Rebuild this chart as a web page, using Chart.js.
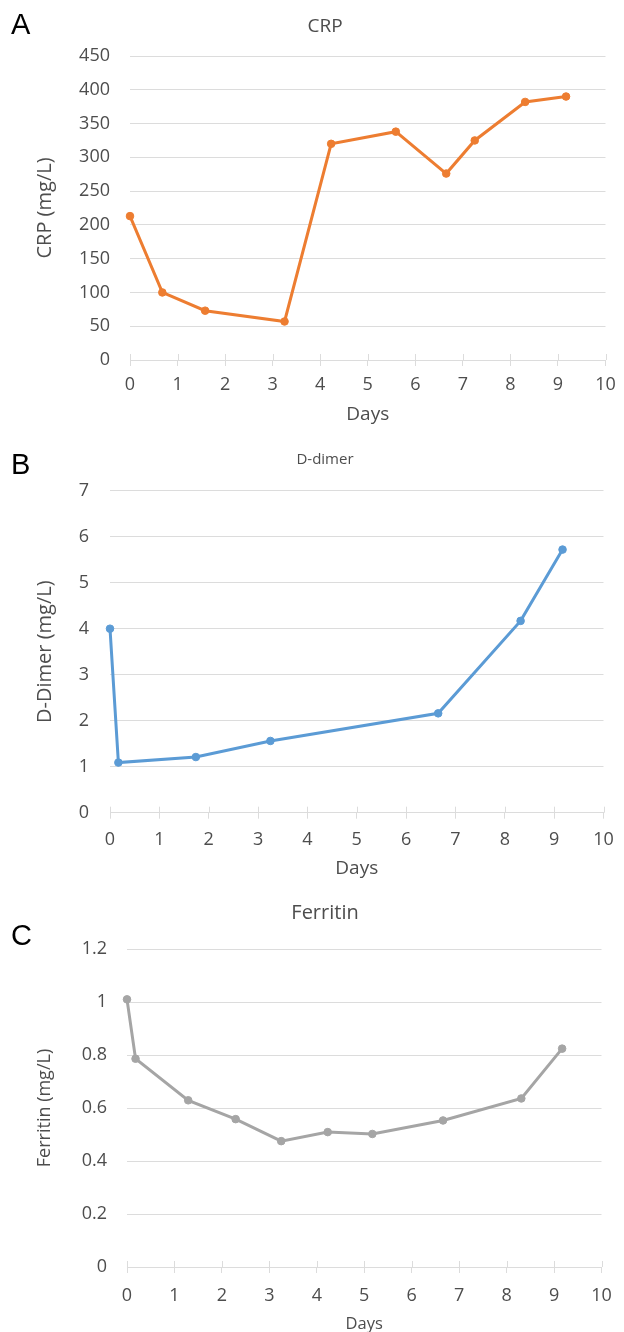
<!DOCTYPE html>
<html>
<head>
<meta charset="utf-8">
<script src="https://cdn.jsdelivr.net/npm/chart.js@4/dist/chart.umd.min.js"></script>
<style>
  body { margin: 0; background: #fff; }
  #wrap { position: relative; width: 624px; height: 1332px; overflow: hidden; }
  canvas { position: absolute; left: 0; }
  .panel { position: absolute; left: 11px; font-family: "Liberation Sans", Arial, sans-serif; font-size: 29px; color: #000; line-height: 1; }
</style>
</head>
<body>
<div id="wrap">
  <canvas id="crp" width="624" height="440" style="top:0"></canvas>
  <canvas id="ddimer" width="624" height="450" style="top:440px"></canvas>
  <canvas id="ferritin" width="624" height="442" style="top:890px"></canvas>
  <div class="panel" style="top:10px">A</div>
  <div class="panel" style="top:450px">B</div>
  <div class="panel" style="top:921px">C</div>
</div>
<script>
// values
const crpDays = [0, 0.68, 1.58, 3.25, 4.23, 5.59, 6.65, 7.25, 8.31, 9.17];
const crpValues = [213, 100, 73, 57, 320, 338, 276, 325, 382, 390];

const ddimerDays = [0, 0.17, 1.74, 3.25, 6.65, 8.32, 9.17];
const ddimerValues = [4.0, 1.09, 1.21, 1.56, 2.16, 4.17, 5.72];

const ferritinDays = [0, 0.18, 1.29, 2.29, 3.25, 4.23, 5.17, 6.66, 8.31, 9.17];
const ferritinValues = [1.01, 0.786, 0.629, 0.558, 0.475, 0.509, 0.502, 0.553, 0.636, 0.824];

const FONT = "'Open Sans', 'DejaVu Sans', sans-serif";
const TEXT = "#4d4d4d";
const GRID = "#dcdcdc";

// Excel-style tick marks also poke up above the x axis line
const crossTicks = {
  id: "crossTicks",
  beforeDatasetsDraw(chart) {
    const x = chart.scales.x;
    const ctx = chart.ctx;
    ctx.save();
    ctx.strokeStyle = GRID;
    ctx.lineWidth = 1;
    ctx.beginPath();
    x.ticks.forEach((t) => {
      const px = Math.round(x.getPixelForValue(t.value)) + 0.5;
      ctx.moveTo(px, x.top - 6);
      ctx.lineTo(px, x.top);
    });
    ctx.stroke();
    ctx.restore();
  },
};

function toPoints(days, values) {
  return days.map((d, i) => ({ x: d, y: values[i] }));
}

function makeChart(id, cfg) {
  return new Chart(document.getElementById(id), {
    type: "line",
    data: {
      datasets: [{
        data: toPoints(cfg.days, cfg.values),
        borderColor: cfg.color,
        backgroundColor: cfg.color,
        borderWidth: 3,
        pointRadius: 3.8,
        pointBorderWidth: 1,
        tension: 0,
        clip: false,
      }],
    },
    plugins: [crossTicks],
    options: {
      responsive: false,
      animation: false,
      layout: { padding: cfg.pad },
      plugins: {
        legend: { display: false },
        tooltip: { enabled: false },
        title: {
          display: true,
          text: cfg.title,
          color: TEXT,
          font: { family: FONT, size: cfg.titleSize, weight: "normal" },
          padding: cfg.titlePad,
        },
      },
      scales: {
        x: {
          type: "linear",
          min: 0,
          max: 10,
          ticks: { stepSize: 1, color: TEXT, padding: cfg.xTickPad, font: { family: FONT, size: 18 } },
          grid: { drawOnChartArea: false, tickLength: 6, color: GRID },
          border: { color: GRID },
          title: {
            display: true,
            text: "Days",
            color: TEXT,
            font: { family: FONT, size: cfg.daysSize },
            padding: { top: 0, bottom: cfg.daysPad },
          },
          afterFit: (s) => { s.height = cfg.xHeight; },
        },
        y: {
          min: 0,
          max: cfg.yMax,
          ticks: {
            stepSize: cfg.yStep,
            color: TEXT,
            padding: cfg.yTickPad,
            font: { family: FONT, size: 18 },
            callback: (v) => String(+v.toFixed(1)),
          },
          grid: { color: GRID, drawTicks: false },
          border: { display: false },
          title: {
            display: true,
            text: cfg.yTitle,
            color: TEXT,
            font: { family: FONT, size: cfg.yTitleSize },
            padding: { top: cfg.yTitlePad, bottom: 0 },
          },
          afterFit: (s) => { s.width = cfg.yWidth; },
        },
      },
    },
  });
}

makeChart("crp", {
  days: crpDays, values: crpValues, color: "#ed7d31",
  title: "CRP", titleSize: 19, titlePad: { top: 15.6, bottom: 17.6 },
  pad: { left: 40, right: 14, top: 0, bottom: 0 },
  yWidth: 90, yMax: 450, yStep: 50, yTickPad: 20,
  yTitle: "CRP (mg/L)", yTitleSize: 20, yTitlePad: -7,
  xHeight: 80, xTickPad: 8.2, daysSize: 19, daysPad: 13.6,
});

makeChart("ddimer", {
  days: ddimerDays, values: ddimerValues, color: "#5b9bd5",
  title: "D-dimer", titleSize: 15, titlePad: { top: 11, bottom: 21.7 },
  pad: { left: 36, right: 10, top: 0, bottom: 0 },
  yWidth: 74, yMax: 7, yStep: 1, yTickPad: 21,
  yTitle: "D-Dimer (mg/L)", yTitleSize: 20, yTitlePad: -3,
  xHeight: 77.3, xTickPad: 10.2, daysSize: 19, daysPad: 9.6,
});

makeChart("ferritin", {
  days: ferritinDays, values: ferritinValues, color: "#a5a5a5",
  title: "Ferritin", titleSize: 20, titlePad: { top: 11, bottom: 24 },
  pad: { left: 39, right: 13, top: 0, bottom: 0 },
  yWidth: 88, yMax: 1.2, yStep: 0.2, yTickPad: 20,
  yTitle: "Ferritin (mg/L)", yTitleSize: 18, yTitlePad: -4.8,
  xHeight: 65, xTickPad: 12.2, daysSize: 16.5, daysPad: -2,
});
</script>
</body>
</html>
